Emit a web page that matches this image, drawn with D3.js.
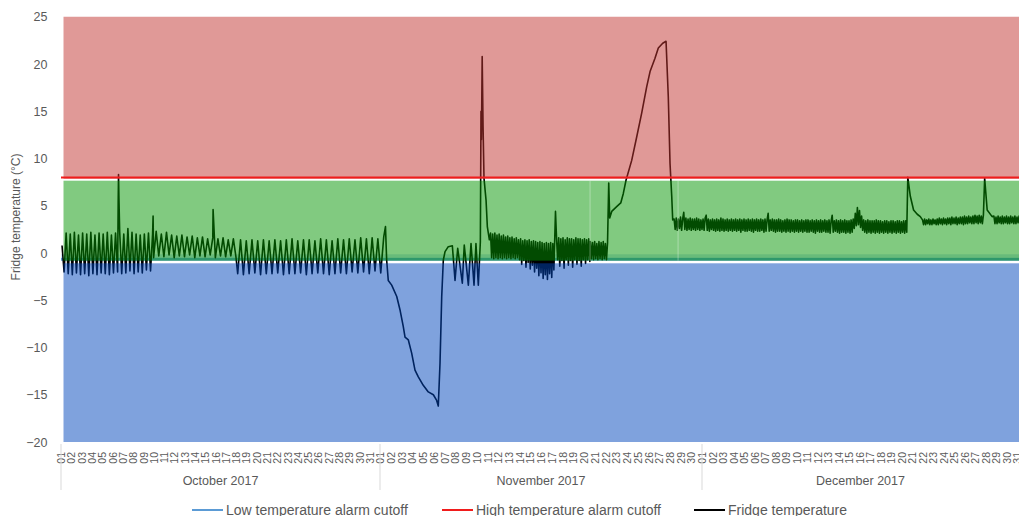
<!DOCTYPE html>
<html>
<head>
<meta charset="utf-8">
<script src="https://cdn.jsdelivr.net/npm/d3@7"></script>
<style>
  body { margin: 0; background: #fff; }
  text { font-family: "Liberation Sans", Arial, sans-serif; }
</style>
</head>
<body>
<div class="chart-area"></div>
<script>
// Fridge temperature log, Oct - Dec 2017
// day index: 0 = 1 Oct 00:00

// ---- Data ----
const yTicks = [-20, -15, -10, -5, 0, 5, 10, 15, 20, 25];
const monthNames = ["October 2017", "November 2017", "December 2017"];
const monthDays = [31, 30, 31];

const highCutoff = 8;
const lowCutoff = -0.66;

// background bands (high / normal / low)
const bandTop = [25, 7.65, -1.09];
const bandBottom = [7.85, -0.81, -20];
const bandSeams = [50.57, 58.77];

// regular logger stretches: start day, step (days), readings
const octCycleStart = 0.1, octCycleStep = 0.2;
const octCycle = [0.8, -2.0, 2.1, -2.2, 2.0, -2.3, 2.2, -2.1, 1.9, -2.3,
  2.1, -2.2, 2.0, -2.4, 2.2, -2.2, 1.9, -2.3, 2.1, -2.1,
  2.0, -2.2, 2.2, -2.3, 1.9, -2.1, 2.1, -2.0, 2.3, -2.2,
  2.0, -2.1, 2.6, -1.9, 2.2, -2.2, 2.0, -2.0, 1.9, -2.1,
  2.0, -1.8, 2.1, -1.9, 2.0];

const octMildStart = 9.0, octMildStep = 0.25;
const octMild = [-0.5, 2.3, -0.3, 2.0, -0.4, 2.2, -0.2, 1.9, -0.5, 1.8,
  -0.3, 1.9, -0.4, 1.7, -0.2, 1.8, -0.5, 1.6, -0.3, 1.7,
  -0.4, 1.5, -0.2, 1.6, -0.5, 1.5, -0.3, 1.6, -0.4, 1.4,
  -0.3, 1.5, -0.4];

const octLateStart = 17.17, octLateStep = 0.278;
const octLate = [-2.2, 1.4, -2.3, 1.3, -2.2, 1.4, -2.1, 1.3, -2.3, 1.4,
  -2.2, 1.3, -2.2, 1.4, -2.1, 1.3, -2.3, 1.4, -2.2, 1.5,
  -2.2, 1.3, -2.1, 1.4, -2.3, 1.4, -2.2, 1.3, -2.1, 1.5,
  -2.2, 1.4, -2.3, 1.3, -2.2, 1.5, -2.1, 1.4, -2.2, 1.5,
  -2.0, 1.4, -2.1, 1.6, -2.0, 1.5, -2.2, 1.6, -1.9, 1.5,
  -2.1, 1.7];

const novMidStart = 41.3, novMidStep = 0.1;
const novMid = [2.1, -0.5, 2.0, -0.6, 2.1, -0.5, 1.9, -0.6, 2.0, -0.5,
  1.8, -0.6, 1.9, -0.5, 1.7, -0.6, 1.8, -0.5, 1.6, -0.6,
  1.7, -0.5, 1.5, -0.6, 1.6, -0.5, 1.4, -0.7, 1.5, -1.2,
  1.3, -0.8, 1.4, -1.5, 1.3, -1.0, 1.4, -1.7, 1.2, -1.3,
  1.3, -2.0, 1.2, -1.6, 1.1, -2.4, 1.2, -2.1, 1.1, -2.7,
  1.0, -2.3, 1.1, -2.8, 1.0, -2.2, 1.1, -2.6, 1.0, -1.8];

const novLateStart = 47.45, novLateStep = 0.1;
const novLate = [1.5, -0.7, 1.6, -1.4, 1.5, -0.8, 1.6, -1.6, 1.4, -0.7,
  1.6, -1.3, 1.5, -0.8, 1.5, -1.5, 1.4, -0.7, 1.6, -1.2,
  1.5, -0.8, 1.5, -1.4, 1.4, -0.7, 1.5, -1.1, 1.4, -0.7,
  1.5, -0.9];

const novFlatStart = 50.6, novFlatStep = 0.1;
const novFlat = [1.2, -0.6, 1.1, -0.7, 1.2, -0.6, 1.0, -0.7, 1.2, -0.6,
  1.1, -0.7, 1.2, -0.6, 1.0, -0.7, 1.1];

const decMainStart = 58.4, decMainStep = 0.1;
const decMain = [3.6, 2.5, 3.7, 2.4, 3.6, 2.6, 3.8, 2.4, 3.6, 4.3,
  2.5, 3.7, 2.4, 3.6, 2.5, 3.7, 2.4, 3.6, 2.5, 3.6,
  2.4, 3.7, 2.5, 3.6, 2.4, 3.5, 2.5, 3.6, 2.4, 3.7,
  4.0, 2.4, 3.6, 2.3, 3.5, 2.5, 3.6, 2.4, 3.5, 2.3,
  3.6, 2.4, 3.5, 2.3, 3.7, 2.4, 3.6, 2.3, 3.5, 2.4,
  3.6, 2.3, 3.5, 2.4, 3.6, 2.3, 3.5, 2.4, 3.6, 2.3,
  3.5, 2.4, 3.6, 2.2, 3.5, 2.4, 3.6, 2.3, 3.5, 2.3,
  3.6, 2.4, 3.5, 2.3, 3.6, 2.2, 3.5, 2.4, 3.6, 2.3,
  3.5, 2.3, 3.6, 2.4, 3.5, 2.2, 3.6, 2.3, 3.5, 4.2,
  2.3, 3.5, 2.4, 3.6, 2.3, 3.5, 2.2, 3.5, 2.3, 3.6,
  2.3, 3.5, 2.2, 3.4, 2.3, 3.5, 2.2, 3.6, 2.3, 3.5,
  2.2, 3.5, 2.3, 3.4, 2.2, 3.5, 2.3, 3.5, 2.2, 3.4,
  2.3, 3.5, 2.2, 3.4, 2.3, 3.5, 2.2, 3.5, 2.2, 3.4,
  2.3, 3.5, 2.2, 3.4, 2.1, 3.5, 2.3, 3.4, 2.2, 3.5,
  2.2, 3.4, 2.3, 3.5, 2.2, 3.4, 2.2, 3.5, 2.1, 3.4,
  4.0, 2.2, 3.4, 2.3, 3.5, 2.2, 3.4, 2.1, 3.5, 2.2,
  3.4, 2.2, 3.5, 2.1, 3.4, 2.2, 3.4, 2.1, 3.5, 2.2,
  3.6, 2.6, 4.2, 2.9, 4.8, 3.0, 4.5, 2.7, 3.9, 2.4,
  3.5, 2.2, 3.4, 2.1, 3.5, 2.2, 3.4, 2.1, 3.4, 2.2,
  3.4, 2.1, 3.5, 2.2, 3.4, 2.1, 3.4, 2.2, 3.3, 2.1,
  3.4, 2.2, 3.4, 2.1, 3.3, 2.2, 3.4, 2.1, 3.4, 2.2,
  3.3, 2.1, 3.4, 2.2, 3.4, 2.1, 3.3, 2.2, 3.4, 2.1,
  3.4, 2.2];

const decLateStart = 82.0, decLateStep = 0.1;
const decLate = [3.5, 3.0, 3.6, 3.0, 3.5, 3.1, 3.6, 3.0, 3.5, 3.0,
  3.6, 3.1, 3.5, 3.0, 3.6, 3.0, 3.7, 3.1, 3.6, 3.0,
  3.7, 3.1, 3.6, 3.0, 3.7, 3.1, 3.7, 3.0, 3.8, 3.1,
  3.7, 3.1, 3.8, 3.0, 3.7, 3.1, 3.8, 3.1, 3.8, 3.0,
  3.9, 3.1, 3.8, 3.1, 3.9, 3.2, 3.8, 3.1, 3.9, 3.1,
  4.0, 3.2, 3.9, 3.1, 4.0, 3.2, 3.9, 3.1, 4.0];

const decEndStart = 88.8, decEndStep = 0.1;
const decEnd = [3.9, 3.1, 3.8, 3.1, 3.9, 3.2, 3.8, 3.1, 3.9, 3.1,
  3.8, 3.2, 3.9, 3.1, 3.8, 3.1, 3.9, 3.2, 3.8, 3.1,
  3.9, 3.1, 3.8, 3.2, 3.9, 3.1, 3.8, 3.1, 3.9];

// irregular events: [day, temperature]
const octSpikes = [[5.56, 5.6], [5.59, 8.3], [5.63, 5.8], [8.95, 3.9], [14.78, 4.6]];
const novFreeze = [[31.51, 2.8], [31.62, -0.74], [31.77, -2.9], [32.09, -3.4], [32.56, -4.6],
  [32.86, -6.0], [33.17, -7.8], [33.33, -8.9], [33.64, -9.2], [33.95, -10.6],
  [34.26, -12.4], [34.57, -13.1], [35.03, -14.0], [35.5, -14.7], [35.97, -15.0],
  [36.28, -15.6], [36.43, -16.2], [36.59, -11.7], [36.75, -4.6], [36.9, -0.74],
  [37.06, 0.14], [37.36, 0.67], [37.74, 0.77], [37.99, -2.9], [38.24, 0.5],
  [38.67, -3.2], [38.85, 0.85], [39.23, -3.4], [39.48, 1.0], [39.76, -3.4],
  [39.94, 1.0], [40.16, -3.4], [40.35, 1.2], [40.41, 15.0], [40.45, 12.0],
  [40.52, 20.8], [40.6, 13.5], [40.69, 7.9], [40.88, 5.6], [41.0, 2.8], [41.19, 1.4]];
const novSpike = [[47.35, 4.4]];
const novWarm = [[52.31, 7.4], [52.4, 3.7], [52.59, 4.4], [53.05, 4.9], [53.43, 5.3],
  [53.67, 6.3], [53.92, 7.7], [54.45, 9.8], [54.92, 12.3], [55.38, 14.8],
  [55.85, 17.6], [56.16, 19.2], [56.62, 20.6], [56.93, 21.7], [57.34, 22.2],
  [57.65, 22.4], [57.86, 16.5], [58.02, 9.5], [58.18, 6.0], [58.27, 3.5]];
const decDoorA = [[80.6, 8.0], [80.84, 6.0], [81.15, 4.55], [81.5, 4.1], [81.79, 3.85]];
const decDoorB = [[87.92, 7.9], [88.16, 4.55], [88.63, 3.85]];

// ---- Sizes ----
const svgWidth = 1019, svgHeight = 516;
const plotLeft = 63.5, plotRight = 1019;
const axisY = 442;

const runs = [
  [octCycleStart, octCycleStep, octCycle],
  [octMildStart, octMildStep, octMild],
  [octLateStart, octLateStep, octLate],
  [novMidStart, novMidStep, novMid],
  [novLateStart, novLateStep, novLate],
  [novFlatStart, novFlatStep, novFlat],
  [decMainStart, decMainStep, decMain],
  [decLateStart, decLateStep, decLate],
  [decEndStart, decEndStep, decEnd]
];
let readings = [];
runs.forEach(([t0, dt, vals]) => vals.forEach((v, i) => readings.push([t0 + i * dt, v])));
readings = readings.concat(octSpikes, novFreeze, novSpike, novWarm, decDoorA, decDoorB)
  .sort((a, b) => a[0] - b[0]);

// month start indices
const monthStart = [];
monthDays.reduce((acc, n) => { monthStart.push(acc); return acc + n; }, 0);

// ---- Scales ----
const x = d3.scaleLinear().domain([0, 31, 61, 92]).range([61, 380, 702, 1027.5]);
const y = d3.scaleLinear().domain([-20, 25]).range([axisY, 16.75]);

const svg = d3.select(".chart-area").append("svg")
    .attr("width", svgWidth)
    .attr("height", svgHeight);

svg.append("defs").append("clipPath").attr("id", "plot-clip")
  .append("rect").attr("x", 0).attr("y", 0).attr("width", plotRight).attr("height", axisY);

const plot = svg.append("g").attr("clip-path", "url(#plot-clip)");

// low alarm line (sits under the bands), with its soft upper edge
plot.append("line")
    .attr("x1", x(0)).attr("x2", plotRight)
    .attr("y1", y(lowCutoff) - 3.2).attr("y2", y(lowCutoff) - 3.2)
    .attr("stroke", "#5b9bd5")
    .attr("stroke-opacity", 0.3)
    .attr("stroke-width", 3.4);
plot.append("line")
    .attr("x1", x(0)).attr("x2", plotRight)
    .attr("y1", y(lowCutoff)).attr("y2", y(lowCutoff))
    .attr("stroke", "#5b9bd5")
    .attr("stroke-width", 3);

// fridge temperature line (bands tint it)
plot.append("path")
    .datum(readings)
    .attr("fill", "none")
    .attr("stroke", "#000")
    .attr("stroke-width", 1.6)
    .attr("stroke-linejoin", "round")
    .attr("d", d3.line().x(d => x(d[0])).y(d => y(d[1])));

// bands, semi transparent on top
const bandColors = ["rgb(193,51,47)", "rgb(3,149,1)", "rgb(0,69,187)"];
plot.selectAll("rect.band")
    .data(bandTop)
    .join("rect")
    .attr("class", "band")
    .attr("x", plotLeft)
    .attr("width", plotRight - plotLeft)
    .attr("y", d => y(d))
    .attr("height", (d, i) => y(bandBottom[i]) - y(d))
    .attr("fill", (d, i) => bandColors[i])
    .attr("fill-opacity", 0.5);

// faint seams in the green band
plot.selectAll("line.seam")
    .data(bandSeams)
    .join("line")
    .attr("class", "seam")
    .attr("x1", d => x(d)).attr("x2", d => x(d))
    .attr("y1", y(bandTop[1])).attr("y2", y(bandBottom[1]))
    .attr("stroke", "#fff")
    .attr("stroke-opacity", 0.35)
    .attr("stroke-width", 1);

// high alarm line
plot.append("line")
    .attr("x1", x(0)).attr("x2", plotRight)
    .attr("y1", y(highCutoff)).attr("y2", y(highCutoff))
    .attr("stroke", "#f01c1c")
    .attr("stroke-width", 2);

// ---- Y axis ----
const yAxis = svg.append("g")
    .attr("transform", `translate(${plotLeft},0)`)
    .call(d3.axisLeft(y).tickValues(yTicks).tickSize(0).tickPadding(16));
yAxis.select(".domain").remove();
yAxis.selectAll("text")
    .attr("fill", "#595959")
    .style("font-size", "12.5px")
    .style("font-family", "'Liberation Sans', Arial, sans-serif");

svg.append("text")
    .attr("transform", "translate(20,217) rotate(-90)")
    .attr("text-anchor", "middle")
    .attr("fill", "#595959")
    .style("font-size", "12px")
    .text("Fridge temperature (°C)");

// ---- X axis: days ----
const dayTicks = [], dayLabels = [];
monthDays.forEach((n, m) => {
    for (let i = 1; i <= n; i++) {
        dayTicks.push(monthStart[m] + i - 1);
        dayLabels.push(String(i).padStart(2, "0"));
    }
});

const xAxis = svg.append("g")
    .attr("transform", `translate(0,${axisY})`)
    .call(d3.axisBottom(x).tickValues(dayTicks).tickFormat((d, i) => dayLabels[i]).tickSize(0));
xAxis.select(".domain").remove();
xAxis.selectAll("text")
    .attr("transform", "rotate(-90)")
    .attr("text-anchor", "end")
    .attr("x", -10)
    .attr("y", 0)
    .attr("dy", "0.35em")
    .attr("fill", "#595959")
    .style("font-size", "10.5px")
    .style("font-family", "'Liberation Sans', Arial, sans-serif");

// month separators + names
svg.selectAll("line.month-sep")
    .data(monthStart)
    .join("line")
    .attr("class", "month-sep")
    .attr("x1", d => x(d)).attr("x2", d => x(d))
    .attr("y1", axisY + 2).attr("y2", 490)
    .attr("stroke", "#d9d9d9");

svg.selectAll("text.month")
    .data(monthNames)
    .join("text")
    .attr("class", "month")
    .attr("x", (d, i) => (x(monthStart[i]) + Math.min(x(monthStart[i] + monthDays[i]), plotRight)) / 2)
    .attr("y", 485)
    .attr("text-anchor", "middle")
    .attr("fill", "#595959")
    .style("font-size", "12.5px")
    .text(d => d);

// ---- Legend ----
const legendItems = ["Low temperature alarm cutoff", "High temperature alarm cutoff", "Fridge temperature"];
const legendColors = ["#5b9bd5", "#f01c1c", "#000"];
const legendX = [192, 442, 694];

const legend = svg.append("g").attr("transform", "translate(0,510)");
legendItems.forEach((name, i) => {
    legend.append("line")
        .attr("x1", legendX[i]).attr("x2", legendX[i] + 31)
        .attr("stroke", legendColors[i])
        .attr("stroke-width", 2);
    legend.append("text")
        .attr("x", legendX[i] + 34)
        .attr("dy", "0.35em")
        .attr("fill", "#595959")
        .style("font-size", "14px")
        .text(name);
});
</script>
</body>
</html>
